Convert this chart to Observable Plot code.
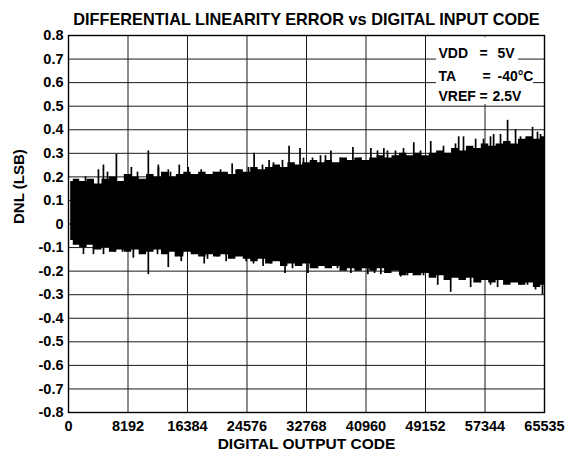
<!DOCTYPE html>
<html><head><meta charset="utf-8">
<script src="https://cdn.jsdelivr.net/npm/d3@7"></script>
<script src="https://cdn.jsdelivr.net/npm/@observablehq/plot@0.6"></script>
<style>body{margin:0;background:#fff;}</style>
</head><body><div id="chart"></div>
<script>
// ---- data ----
const title = "DIFFERENTIAL LINEARITY ERROR vs DIGITAL INPUT CODE";
const xLabel = "DIGITAL OUTPUT CODE";
const yLabel = "DNL (LSB)";
const xTicks = [0, 8192, 16384, 24576, 32768, 40960, 49152, 57344, 65535];
const yTicks = [-0.8, -0.7, -0.6, -0.5, -0.4, -0.3, -0.2, -0.1, 0, 0.1, 0.2, 0.3, 0.4, 0.5, 0.6, 0.7, 0.8];

// envelope of the dense DNL band (upper / lower), sampled every 1024 codes
const envCode = [300,1024,2048,3072,4096,5120,6144,7168,8192,9216,10240,11264,12288,13312,14336,15360,16384,17408,18432,19456,20480,21504,22528,23552,24576,25600,26624,27648,28672,29696,30720,31744,32768,33792,34816,35840,36864,37888,38912,39936,40960,41984,43008,44032,45056,46080,47104,48128,49152,50176,51200,52224,53248,54272,55296,56320,57344,58368,59392,60416,61440,62464,63488,64512,65535];
const envHi = [0.18,0.19,0.18,0.19,0.17,0.19,0.20,0.18,0.21,0.20,
  0.19,0.21,0.20,0.22,0.20,0.21,0.22,0.21,0.22,0.21,
  0.22,0.22,0.21,0.23,0.22,0.24,0.23,0.24,0.25,0.24,
  0.26,0.25,0.26,0.27,0.26,0.27,0.26,0.28,0.27,0.28,
  0.27,0.28,0.29,0.28,0.29,0.30,0.29,0.30,0.29,0.30,
  0.31,0.30,0.32,0.31,0.33,0.32,0.34,0.33,0.34,0.35,
  0.34,0.36,0.37,0.36,0.37];
const envLo = [-0.07,-0.09,-0.10,-0.09,-0.11,-0.10,-0.12,-0.11,-0.12,-0.11,
  -0.13,-0.12,-0.11,-0.13,-0.12,-0.14,-0.12,-0.13,-0.14,-0.13,
  -0.14,-0.13,-0.15,-0.14,-0.15,-0.16,-0.15,-0.17,-0.16,-0.18,
  -0.17,-0.18,-0.17,-0.19,-0.18,-0.19,-0.18,-0.20,-0.19,-0.20,
  -0.19,-0.20,-0.19,-0.21,-0.20,-0.22,-0.21,-0.22,-0.21,-0.23,
  -0.22,-0.24,-0.23,-0.24,-0.23,-0.25,-0.24,-0.25,-0.24,-0.26,
  -0.25,-0.26,-0.25,-0.27,-0.26];

// spikes poking out of the top of the band
const upCode = [4122,4809,6595,8656,10991,12365,13739,15250,16487,18273,22532,25555,27616,30364,31875,36134,39156,41630,43416,47537,49873,53720,56055,58528,60452,61551,63887,64986,
  2341,5370,9500,12391,14043,17072,19964,20927,23406,24782,26710,28224,29463,32355,33594,34695,35384,37449,40203,42543,
  43920,45021,46122,48463,51630,53282,54384,57137,58101,59478,62231,64572];
const upVal  = [0.23,0.25,0.295,0.24,0.31,0.25,0.23,0.25,0.24,0.23,0.255,0.30,0.27,0.33,0.32,0.31,0.325,0.32,0.32,0.345,0.35,0.37,0.36,0.38,0.44,0.40,0.41,0.38,
  0.20,0.22,0.22,0.24,0.22,0.21,0.22,0.23,0.23,0.24,0.25,0.26,0.27,0.28,0.28,0.29,0.29,0.28,0.28,0.31,
  0.31,0.31,0.32,0.31,0.33,0.34,0.37,0.36,0.37,0.38,0.37,0.39];
// spikes poking out of the bottom of the band
const dnCode = [2061,3435,6320,8930,10991,13739,15525,18685,21708,24455,26791,29814,32974,38881,41217,43003,45751,50835,52621,55368,59078,62238,64300,65261,
  4819,7435,9913,12254,14732,15696,17072,19138,20514,21891,22717,25471,27811,30840,34282,35108,37036,39790,42130,
  43920,46674,47500,48876,53971,56724,58101,60442,63195];
const dnVal  = [-0.13,-0.13,-0.12,-0.145,-0.215,-0.185,-0.16,-0.17,-0.16,-0.16,-0.18,-0.21,-0.21,-0.21,-0.215,-0.215,-0.225,-0.26,-0.29,-0.27,-0.27,-0.26,-0.28,-0.30,
  -0.13,-0.12,-0.12,-0.13,-0.14,-0.13,-0.13,-0.15,-0.14,-0.13,-0.14,-0.17,-0.17,-0.19,-0.19,-0.18,-0.19,-0.20,-0.21,
  -0.19,-0.22,-0.22,-0.22,-0.24,-0.25,-0.26,-0.25,-0.26];

// condition annotation (text baselines / anchors and white text boxes, in data units)
const annLabel = ["VDD", "TA", "VREF"];
const annValue = ["5V", "-40°C", "2.5V"];
const annY     = [0.706, 0.609, 0.523];
const annLabX  = [50940, 50940, 50940];
const annEqX   = [56590, 57000, 56590];
const annValX  = [59060, 59060, 58380];
const annBoxX1 = [50670, 50670, 50670];
const annBoxX2 = [61950, 64020, 62780];
const annBoxY1 = [0.689, 0.587, 0.507];
const annBoxY2 = [0.791, 0.689, 0.587];

// ---- tables built from the arrays ----
const env = envCode.map((c, i) => ({code: c, hi: envHi[i], lo: envLo[i]}));
const ups = upCode.map((c, i) => ({code: c, v: upVal[i]}));
const dns = dnCode.map((c, i) => ({code: c, v: dnVal[i]}));
const ann = annLabel.map((l, i) => ({label: l, value: annValue[i], y: annY[i], lx: annLabX[i], ex: annEqX[i], vx: annValX[i],
  bx1: annBoxX1[i], bx2: annBoxX2[i], by1: annBoxY1[i], by2: annBoxY2[i]}));

const fmtY = d => Math.abs(d) < 1e-9 ? "0" : d.toFixed(1);
const FONT = "'Liberation Sans', Arial, Helvetica, sans-serif";
const annText = {fill: "black", fontWeight: "bold", fontSize: 14, lineAnchor: "bottom", textAnchor: "start"};

const chart = Plot.plot({
  width: 569,
  height: 455,
  marginLeft: 68,
  marginRight: 25,
  marginTop: 35,
  marginBottom: 43,
  style: {fontFamily: FONT, fontSize: "14px", fontWeight: "bold", background: "white", color: "black"},
  x: {domain: [0, 65535]},
  y: {domain: [-0.8, 0.8]},
  marks: [
    Plot.gridX(xTicks, {stroke: "#1a1a1a", strokeOpacity: 1, strokeWidth: 1}),
    Plot.gridY(yTicks, {stroke: "#1a1a1a", strokeOpacity: 1, strokeWidth: 1}),
    Plot.areaY(env, {x: "code", y1: "lo", y2: "hi", fill: "black", curve: "step"}),
    Plot.ruleX(ups, {x: "code", y1: 0, y2: "v", stroke: "black", strokeWidth: 1.7}),
    Plot.ruleX(dns, {x: "code", y1: 0, y2: "v", stroke: "black", strokeWidth: 1.7}),
    Plot.rect(ann, {x1: "bx1", x2: "bx2", y1: "by1", y2: "by2", fill: "white"}),
    Plot.text(ann, {x: "lx", y: "y", text: "label", ...annText}),
    Plot.text(ann, {x: "ex", y: "y", text: () => "=", ...annText}),
    Plot.text(ann, {x: "vx", y: "y", text: "value", ...annText}),
    Plot.frame({stroke: "black", strokeWidth: 1.4}),
    Plot.axisX(xTicks, {tickSize: 0, tickPadding: 8, tickFormat: d => String(d), fontSize: 14.5, fontWeight: "bold", label: null}),
    Plot.axisY(yTicks, {tickSize: 0, tickPadding: 5, tickFormat: fmtY, fontSize: 14.5, fontWeight: "bold", label: null}),
    Plot.text([title], {frameAnchor: "top", dy: -11, lineAnchor: "bottom", text: d => d, fontSize: 16.3, fontWeight: "bold"}),
    Plot.text([xLabel], {frameAnchor: "bottom", dy: 36, lineAnchor: "bottom", text: d => d, fontSize: 15.5, fontWeight: "bold"}),
    Plot.text([yLabel], {frameAnchor: "left", dx: -49, rotate: -90, text: d => d, fontSize: 15, fontWeight: "bold"})
  ]
});
document.getElementById("chart").appendChild(chart);
</script>
</body></html>
